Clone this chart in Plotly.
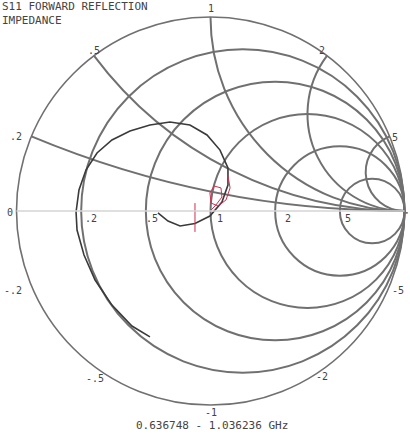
import numpy as np
import plotly.graph_objects as go

# measured S11 (reflection coefficient), sweep 0.636748 - 1.036236 GHz
s11_re = [-0.312, -0.405, -0.508, -0.595, -0.652, -0.688, -0.693, -0.678, -0.642,
          -0.585, -0.508, -0.415, -0.312, -0.209, -0.106, -0.018, 0.049, 0.090,
          0.090, 0.059, -0.003, -0.080, -0.157, -0.219, -0.271]
s11_im = [-0.649, -0.593, -0.485, -0.356, -0.227, -0.098, -0.005, 0.108, 0.211,
          0.299, 0.366, 0.412, 0.443, 0.459, 0.443, 0.392, 0.314, 0.222,
          0.134, 0.046, -0.026, -0.064, -0.077, -0.052, -0.010]

# second (red) sweep and marker
red_re = [0.090, 0.101, 0.080, 0.039, 0.003, -0.003, 0.018, 0.054, 0.059, 0.028, 0.003]
red_im = [0.180, 0.119, 0.057, 0.026, 0.041, 0.093, 0.129, 0.119, 0.072, 0.031, 0.005]
marker_re = [-0.080, -0.080]
marker_im = [0.041, -0.108]

grid_vals = [0.2, 0.5, 1, 2, 5]
real_labels = ['.2', '.5', '1', '2', '5']
imag_labels = ['.2', '.5', '1', '2', '5', '-.2', '-.5', '-1', '-2', '-5']

W, H = 410, 434


def to_z(re, im):
    g = np.array(re) + 1j * np.array(im)
    return (1 + g) / (1 - g)


fig = go.Figure()
z = to_z(s11_re, s11_im)
fig.add_trace(go.Scattersmith(real=z.real, imag=z.imag, mode='lines',
                              line=dict(color='#3a3a3a', width=1.6)))
z = to_z(red_re, red_im)
fig.add_trace(go.Scattersmith(real=z.real, imag=z.imag, mode='lines',
                              line=dict(color='#d03050', width=1)))
z = to_z(marker_re, marker_im)
fig.add_trace(go.Scattersmith(real=z.real, imag=z.imag, mode='lines',
                              line=dict(color='#d03050', width=1)))

font = dict(family='DejaVu Sans Mono', size=10, color='#444444')

annotations = []


def label(text, px, py, size=10, xanchor='center'):
    annotations.append(dict(text=text, x=px / W, y=1 - py / H, xref='paper', yref='paper',
                            showarrow=False, xanchor=xanchor, yanchor='middle',
                            font=dict(font, size=size)))


# real axis labels
for t, px in zip(real_labels, [91, 152, 220, 288, 348]):
    label(t, px, 218)
label('0', 10, 212)
label('•', 407, 212, size=6)
# imaginary axis labels around the rim
imag_pos = [(16, 136), (94, 50), (211, 9), (322, 50), (395, 137),
            (13, 290), (95, 378), (211, 412), (322, 376), (398, 290)]
for t, (px, py) in zip(imag_labels, imag_pos):
    label(t, px, py)

label('S11 FORWARD REFLECTION', 0, 7, size=11, xanchor='left')
label('IMPEDANCE', 0, 20, size=11, xanchor='left')
label('0.636748 - 1.036236 GHz', 212, 425, size=11)

fig.update_layout(
    width=W, height=H,
    margin=dict(l=0, r=0, t=0, b=0),
    paper_bgcolor='white',
    showlegend=False,
    annotations=annotations,
    smith=dict(
        domain=dict(x=[16.5 / W, 404.5 / W], y=[1 - 405 / H, 1 - 17 / H]),
        bgcolor='white',
        realaxis=dict(tickvals=grid_vals, showticklabels=False, ticks='',
                      gridcolor='#707070', gridwidth=1.6,
                      linecolor='#d4d4d4', linewidth=1.6),
        imaginaryaxis=dict(tickvals=grid_vals, showticklabels=False, ticks='',
                           gridcolor='#707070', gridwidth=1.6,
                           linecolor='#707070', linewidth=1.6),
    ),
)

fig.write_html('out.html', config={'displayModeBar': False},
               post_script="document.body.style.margin='0';")
